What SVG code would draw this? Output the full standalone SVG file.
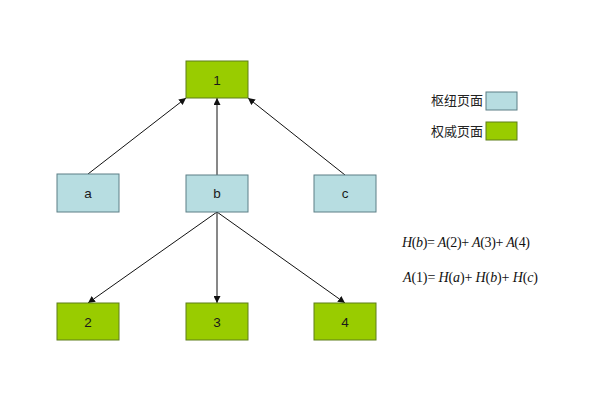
<svg xmlns="http://www.w3.org/2000/svg" width="593" height="402" viewBox="0 0 593 402">
<defs>
<style>
.hub{fill:#b7dde1;stroke:#5c7f86;stroke-width:1}
.auth{fill:#99cc00;stroke:#5f7f1a;stroke-width:1}
.lbl{font-family:"Liberation Sans",Arial,sans-serif;font-size:13.5px;fill:#1a1a1a;text-anchor:middle;dominant-baseline:central}
.leg{font-family:"Noto Sans CJK SC",sans-serif;font-size:13px;fill:#222}
.eq{font-family:"Liberation Serif","Times New Roman",serif;font-size:14px;font-style:italic;fill:#111}
.up{font-style:normal}
.edge{stroke:#111;stroke-width:1;fill:none;marker-end:url(#ah)}
</style>
<marker id="ah" viewBox="0 0 10 10" refX="10" refY="5" markerWidth="7" markerHeight="7" orient="auto" markerUnits="userSpaceOnUse">
<path d="M0,0 L10,5 L0,10 z" fill="#111"/>
</marker>
</defs>
<rect width="593" height="402" fill="#fff"/>
<g id="connectors">
<line class="edge" x1="88" y1="174" x2="186" y2="98"/>
<line class="edge" x1="217" y1="175" x2="217" y2="98"/>
<line class="edge" x1="345" y1="175" x2="248" y2="98"/>
<line class="edge" x1="217" y1="212" x2="88" y2="303"/>
<line class="edge" x1="217" y1="212" x2="217" y2="303"/>
<line class="edge" x1="217" y1="212" x2="345" y2="303"/>
</g>
<g id="node-1"><rect class="auth" x="186" y="61" width="62" height="37"/><text class="lbl" x="217" y="80">1</text></g>
<g id="node-a"><rect class="hub" x="57" y="174" width="62" height="38"/><text class="lbl" x="88" y="193">a</text></g>
<g id="node-b"><rect class="hub" x="186" y="175" width="62" height="37"/><text class="lbl" x="217" y="193">b</text></g>
<g id="node-c"><rect class="hub" x="314" y="175" width="62" height="37"/><text class="lbl" x="345" y="193">c</text></g>
<g id="node-2"><rect class="auth" x="57" y="303" width="62" height="37"/><text class="lbl" x="88" y="322">2</text></g>
<g id="node-3"><rect class="auth" x="186" y="303" width="62" height="37"/><text class="lbl" x="217" y="322">3</text></g>
<g id="node-4"><rect class="auth" x="314" y="303" width="62" height="37"/><text class="lbl" x="345" y="322">4</text></g>
<g id="legend">
<text class="leg" x="431" y="105">枢纽页面</text>
<rect class="hub" x="486" y="92" width="31" height="18"/>
<text class="leg" x="431" y="136">权威页面</text>
<rect class="auth" x="486" y="122" width="31" height="18"/>
</g>
<g id="equations">
<text class="eq" x="402" y="247" textLength="128" lengthAdjust="spacing">H<tspan class="up">(</tspan>b<tspan class="up">)= </tspan>A<tspan class="up">(2)+ </tspan>A<tspan class="up">(3)+ </tspan>A<tspan class="up">(4)</tspan></text>
<text class="eq" x="403" y="282" textLength="135" lengthAdjust="spacing">A<tspan class="up">(1)= </tspan>H<tspan class="up">(</tspan>a<tspan class="up">)+ </tspan>H<tspan class="up">(</tspan>b<tspan class="up">)+ </tspan>H<tspan class="up">(</tspan>c<tspan class="up">)</tspan></text>
</g>
</svg>
